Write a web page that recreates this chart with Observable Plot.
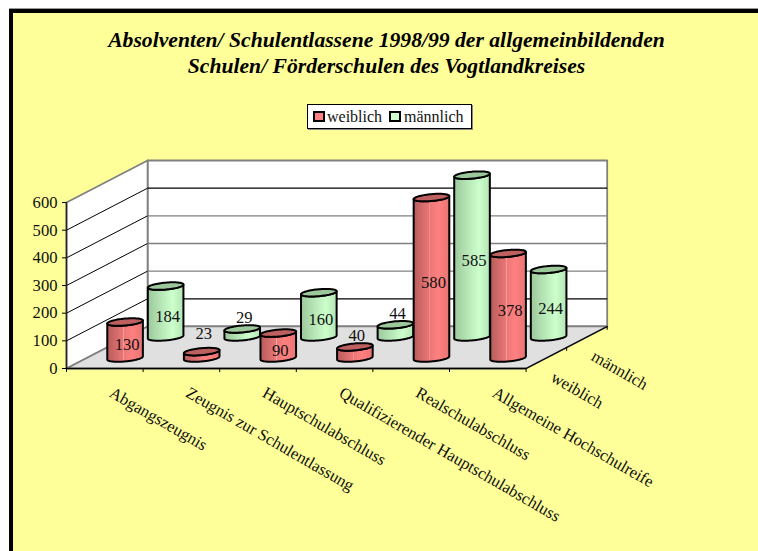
<!DOCTYPE html>
<html><head><meta charset="utf-8">
<script src="https://cdn.jsdelivr.net/npm/d3@7"></script>
<script src="https://cdn.jsdelivr.net/npm/@observablehq/plot@0.6"></script>
<style>
html,body{margin:0;padding:0;background:#fff;overflow:hidden}
#frame{position:absolute;left:9px;top:9px;width:770px;height:560px;background:#ffff99;border:4px solid #000;box-sizing:border-box;box-shadow:0 -1px 0 #999}
#title{position:absolute;left:0;top:27px;width:773px;text-align:center;font:italic bold 21.65px/26px "Liberation Serif",serif;color:#000}
#legend{position:absolute;left:307px;top:104px;width:165px;height:25px;box-sizing:border-box;background:#fff;border:1px solid #000;box-shadow:1px 1px 0 #888;font:16px/23px "Liberation Serif",serif;color:#111}
#legend i{position:absolute;top:6px;width:12px;height:11px;box-sizing:border-box;border:2px solid #000}
#legend span{position:absolute;top:0}
#chart{position:absolute;left:0;top:0}
</style></head><body>
<div id="frame"></div>
<div id="title">Absolventen/ Schulentlassene 1998/99 der allgemeinbildenden<br>Schulen/ Förderschulen des Vogtlandkreises</div>
<div id="legend"><i style="left:5px;background:#ff8080"></i><span style="left:19px">weiblich</span><i style="left:81px;background:#ccffcc"></i><span style="left:96px">männlich</span></div>
<div id="chart"></div>
<script>
const categories = ["Abgangszeugnis","Zeugnis zur Schulentlassung","Hauptschulabschluss","Qualifizierender Hauptschulabschluss","Realschulabschluss","Allgemeine Hochschulreife"];
const weiblich = [130,23,90,40,580,378];
const maennlich = [184,29,160,44,585,244];
const seriesNames = ["weiblich","männlich"];
const rowDepth = [0.25,0.75];
const yTicks = [0,100,200,300,400,500,600];
const gridValues = [100,200,300,400,500];
const catTicks = [0,1,2,3,4,5,6];
const depthTicks = [0.5,1];

// Oblique projection in data units: one unit of depth moves along x and y
const DX = 81/76.5, DY = 152;
const A = 0.212, B = 0.09;
const P = (c,d,v)=>({x:c+d*DX,y:v+d*DY});
const pxX = 76.5, pxD = 81;
const t0 = Math.atan2(pxD*B, pxX*A);
const ringPoint = (c,d,v,t)=>P(c+A*Math.cos(t),d+B*Math.sin(t),v);
const angles = d3.range(0,61).map(i=>i/60);

function body(c,d,v,id){
  const bottom = angles.map(f=>ringPoint(c,d,0,t0-Math.PI*f));
  const top = angles.map(f=>ringPoint(c,d,v,t0-Math.PI+Math.PI*f));
  return [...bottom,...top,bottom[0]].map(p=>({...p,id}));
}
function cap(c,d,v,id){
  return d3.range(0,73).map(i=>({...ringPoint(c,d,v,i/72*2*Math.PI),id}));
}
const rows = (vals,d)=>vals.map((v,i)=>({c:i+0.5,d,v,id:categories[i]}));
const rowF = rows(weiblich,rowDepth[0]);
const rowM = rows(maennlich,rowDepth[1]);
const bodyData = r=>r.flatMap(o=>body(o.c,o.d,o.v,o.id));
const capData = r=>r.flatMap(o=>cap(o.c,o.d,o.v,o.id));

const cylinder = (r,grad,capFill)=>[
  Plot.line(bodyData(r),{x:"x",y:"y",z:"id",fill:grad,stroke:"#000",strokeWidth:2,curve:"linear",strokeLinejoin:"round"}),
  Plot.line(capData(r),{x:"x",y:"y",z:"id",fill:capFill,stroke:"#000",strokeWidth:2,curve:"linear",strokeLinejoin:"round"})
];
const lift = v=>v<25?82:60;
const labelPos = o=>{
  const p = P(o.c,o.d,0);
  return {x:p.x,y:o.v<50 ? p.y+o.v+lift(o.v) : p.y+o.v/2};
};
const valueLabels = r=>Plot.text(r.map(o=>({...labelPos(o),t:String(o.v)})),{
  x:"x",y:"y",text:"t",fontSize:16.6,fill:"#111",dx:2,dy:5});

const poly = (pts,opts)=>Plot.line([...pts,pts[0]],{x:"x",y:"y",curve:"linear",...opts});
const backWall = [P(0,1,0),P(6,1,0),P(6,1,600),P(0,1,600)];
const sideWall = [P(0,0,0),P(0,1,0),P(0,1,600),P(0,0,600)];
const floor = [P(0,0,0),P(6,0,0),P(6,1,0),P(0,1,0)];
const gridColor = v=>(v===100||v===500)?"#000":"#808080";

const plot = Plot.plot({
  width:758,height:551,
  marginLeft:66,marginRight:151.3,marginTop:160,marginBottom:183,
  style:{background:"transparent",fontFamily:"'Liberation Serif',serif",overflow:"visible",color:"#111"},
  x:{domain:[0,6+DX],axis:null},
  y:{domain:[0,600+DY]},
  marks:[
    ()=>{const s=d3.create("svg:defs");
      const g=(id,stops)=>{const l=s.append("linearGradient").attr("id",id);
        stops.forEach(([o,c])=>l.append("stop").attr("offset",o).attr("stop-color",c));};
      g("gradRed",[["0","#b85c5c"],["0.44","#ea7676"],["0.45","#ffa8a8"],["0.47","#ec7878"],["0.7","#ff8080"],["1","#e87474"]]);
      g("gradGreen",[["0","#9cc89c"],["0.45","#bcecbc"],["0.7","#ccffcc"],["1","#b4e4b4"]]);
      return s.node();},
    poly(backWall,{fill:"#fff",stroke:"#808080",strokeWidth:1.8}),
    poly(sideWall,{fill:"#fff",stroke:"#808080",strokeWidth:1.8}),
    poly(floor,{fill:"#e0e0e0",stroke:"#808080",strokeWidth:1.8}),
    Plot.link(gridValues,{x1:()=>0,y1:v=>v,x2:()=>DX,y2:v=>v+DY,stroke:"#000",strokeWidth:1}),
    Plot.link(gridValues,{x1:()=>DX,y1:v=>v+DY,x2:()=>6+DX,y2:v=>v+DY,stroke:gridColor,strokeWidth:1.3}),
    Plot.ruleX([0],{y1:0,y2:600,stroke:"#222",strokeWidth:1.5}),
    Plot.axisY(yTicks,{anchor:"left",label:null,tickSize:4,tickPadding:5,fontSize:16.6,stroke:"#000"}),
    Plot.axisX(catTicks,{anchor:"bottom",label:null,tickSize:4,tickFormat:()=>"",stroke:"#000"}),
    Plot.link([[0,0,6,0],[6,0,6+DX,DY]],{x1:d=>d[0],y1:d=>d[1],x2:d=>d[2],y2:d=>d[3],stroke:"#000",strokeWidth:1.3}),
    Plot.ruleX(depthTicks,{x:d=>6+d*DX,y1:d=>d*DY,y2:d=>d*DY-14,stroke:"#000"}),
    ...cylinder(rowM,"url(#gradGreen)","#9cc89c"),
    ...cylinder(rowF,"url(#gradRed)","#bf6060"),
    valueLabels(rowM),
    valueLabels(rowF),
    Plot.text(categories,{x:(d,i)=>i+0.5,y:()=>0,text:d=>d,rotate:30,textAnchor:"start",fontSize:16.6,fill:"#111",dx:6,dy:23}),
    Plot.text(seriesNames,{x:(d,i)=>6+rowDepth[i]*DX,y:(d,i)=>rowDepth[i]*DY,text:d=>d,rotate:30,textAnchor:"start",fontSize:16.6,fill:"#111",dx:6,dy:18})
  ]
});
document.getElementById("chart").appendChild(plot);
</script></body></html>
